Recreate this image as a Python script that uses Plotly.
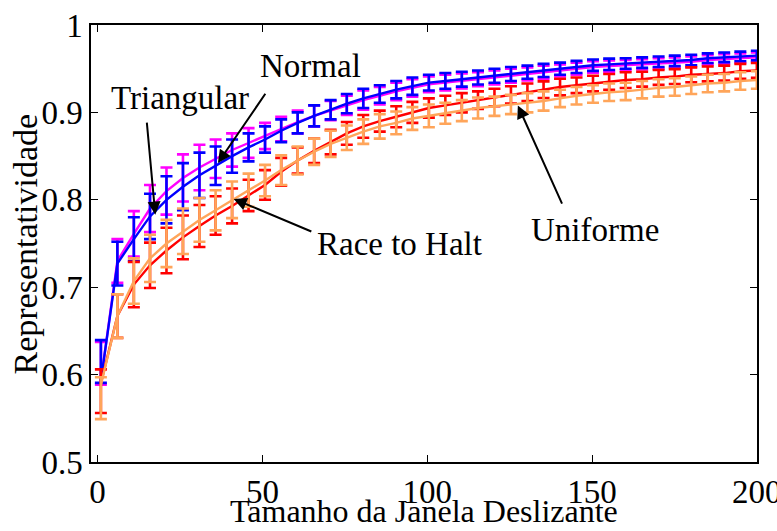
import plotly.graph_objects as go

# Window sizes (x)
window = [1.0, 6.0, 11.0, 15.9, 20.9, 25.9, 30.9, 35.8, 40.8, 45.8, 50.8, 55.7, 60.7, 65.7,
          70.7, 75.6, 80.6, 85.6, 90.6, 95.5, 100.5, 105.5, 110.5, 115.4, 120.4, 125.4,
          130.4, 135.3, 140.3, 145.3, 150.3, 155.2, 160.2, 165.2, 170.2, 175.1, 180.1,
          185.1, 190.1, 195.0, 200.0]

# Normal (blue)
normal_y = [0.593, 0.727, 0.755, 0.781, 0.800, 0.815, 0.828, 0.839, 0.850, 0.860, 0.869,
            0.879, 0.888, 0.896, 0.903, 0.910, 0.916, 0.921, 0.926, 0.930, 0.934, 0.936,
            0.938, 0.940, 0.942, 0.944, 0.946, 0.948, 0.950, 0.952, 0.954, 0.955, 0.956,
            0.957, 0.958, 0.959, 0.960, 0.962, 0.963, 0.964, 0.965]
normal_err = [0.0245, 0.025, 0.025, 0.026, 0.027, 0.027, 0.026, 0.022, 0.019, 0.016, 0.015,
              0.013, 0.012, 0.012, 0.011, 0.011, 0.011, 0.010, 0.010, 0.010, 0.009, 0.009,
              0.0085, 0.008, 0.008, 0.008, 0.0075, 0.0075, 0.007, 0.007, 0.0065, 0.0065,
              0.006, 0.006, 0.006, 0.006, 0.006, 0.0055, 0.0055, 0.0055, 0.0055]
normal_bar0 = 0.615

# Triangular (magenta)
triang_y = [0.593, 0.730, 0.761, 0.790, 0.810, 0.825, 0.837, 0.847, 0.857, 0.865, 0.873,
            0.881, 0.889, 0.896, 0.902, 0.908, 0.914, 0.919, 0.924, 0.928, 0.932, 0.934,
            0.936, 0.938, 0.940, 0.942, 0.944, 0.946, 0.948, 0.950, 0.952, 0.953, 0.954,
            0.955, 0.956, 0.957, 0.958, 0.960, 0.961, 0.962, 0.963]
triang_err = [0.0245, 0.025, 0.026, 0.027, 0.027, 0.027, 0.026, 0.022, 0.019, 0.017, 0.015,
              0.014, 0.013, 0.012, 0.011, 0.011, 0.011, 0.010, 0.010, 0.010, 0.009, 0.009,
              0.0085, 0.008, 0.008, 0.008, 0.0075, 0.0075, 0.007, 0.007, 0.0065, 0.0065,
              0.006, 0.006, 0.006, 0.006, 0.006, 0.0055, 0.0055, 0.0055, 0.0055]
triang_bar0 = 0.613

# Race to Halt (red)
race_y = [0.590, 0.667, 0.703, 0.725, 0.742, 0.757, 0.770, 0.782, 0.793, 0.805, 0.817,
          0.832, 0.845, 0.856, 0.866, 0.876, 0.884, 0.890, 0.895, 0.900, 0.905, 0.908,
          0.911, 0.914, 0.917, 0.920, 0.923, 0.926, 0.929, 0.931, 0.933, 0.935, 0.937,
          0.938, 0.940, 0.941, 0.943, 0.944, 0.945, 0.947, 0.948]
race_err = [0.025, 0.025, 0.026, 0.026, 0.026, 0.025, 0.024, 0.022, 0.020, 0.018, 0.017,
            0.016, 0.015, 0.014, 0.014, 0.013, 0.013, 0.012, 0.012, 0.012, 0.011, 0.011,
            0.011, 0.010, 0.010, 0.010, 0.010, 0.0095, 0.0095, 0.009, 0.009, 0.009, 0.009,
            0.0085, 0.0085, 0.0085, 0.0085, 0.0085, 0.0085, 0.0085, 0.0085]
race_bar0 = 0.581

# Uniforme (orange)
unif_y = [0.588, 0.667, 0.707, 0.733, 0.750, 0.764, 0.777, 0.788, 0.800, 0.811, 0.822,
          0.834, 0.845, 0.855, 0.864, 0.871, 0.878, 0.884, 0.888, 0.893, 0.896, 0.899,
          0.902, 0.905, 0.907, 0.909, 0.911, 0.913, 0.916, 0.919, 0.921, 0.923, 0.924,
          0.926, 0.928, 0.929, 0.931, 0.933, 0.934, 0.936, 0.937]
unif_err = [0.024, 0.025, 0.026, 0.027, 0.027, 0.026, 0.025, 0.023, 0.021, 0.019, 0.018,
            0.017, 0.016, 0.015, 0.015, 0.014, 0.014, 0.014, 0.013, 0.013, 0.013, 0.012,
            0.012, 0.012, 0.011, 0.011, 0.011, 0.011, 0.010, 0.010, 0.010, 0.010, 0.010,
            0.010, 0.010, 0.010, 0.010, 0.010, 0.010, 0.010, 0.010]
unif_bar0 = 0.573

x_ticks = [0, 50, 100, 150, 200]
y_ticks = [0.5, 0.6, 0.7, 0.8, 0.9, 1.0]
y_tick_text = ["0.5", "0.6", "0.7", "0.8", "0.9", "1"]

x_title = "Tamanho da Janela Deslizante"
y_title = "Representatividade"

FONT = "Liberation Serif"

series = [
    ("Triangular", triang_y, triang_err, triang_bar0, "#FF00FF"),
    ("Normal", normal_y, normal_err, normal_bar0, "#0000FF"),
    ("Race to Halt", race_y, race_err, race_bar0, "#FF0000"),
    ("Uniforme", unif_y, unif_err, unif_bar0, "#FFA55A"),
]

fig = go.Figure()
for name, ys, errs, bar0, color in series:
    centers = [bar0] + ys[1:]
    fig.add_trace(go.Scatter(
        x=window, y=centers, mode="markers",
        marker=dict(size=1, color="rgba(0,0,0,0)"),
        error_y=dict(type="data", array=errs, visible=True, color=color,
                     thickness=2.6, width=6),
        showlegend=False, hoverinfo="skip"))
    fig.add_trace(go.Scatter(
        x=window, y=ys, mode="lines", name=name,
        line=dict(color=color, width=2.4), showlegend=False))

annotations = [
    dict(x=64.6, y=0.953, text="Normal"),
    dict(x=24.9, y=0.916, text="Triangular"),
    dict(x=91.7, y=0.750, text="Race to Halt"),
    dict(x=150.8, y=0.766, text="Uniforme"),
]
for a in annotations:
    fig.add_annotation(x=a["x"], y=a["y"], text=a["text"], showarrow=False,
                       xref="x", yref="y", font=dict(family=FONT, size=33, color="black"))

arrows = [
    (36.5, 0.842, 51.2, 0.923),
    (17.5, 0.783, 14.9, 0.890),
    (41.3, 0.801, 65.3, 0.763),
    (127.5, 0.908, 141.1, 0.794),
]
for tx, ty, sx, sy in arrows:
    fig.add_annotation(x=tx, y=ty, ax=sx, ay=sy, xref="x", yref="y", axref="x", ayref="y",
                       text="", showarrow=True, arrowhead=2, arrowsize=1.3,
                       arrowwidth=2, arrowcolor="black", standoff=0, startstandoff=0)

# axis titles as paper-anchored text
fig.add_annotation(text=x_title, xref="paper", yref="paper", x=0.5, y=-0.158,
                   xanchor="center", yanchor="bottom", showarrow=False,
                   font=dict(family=FONT, size=32, color="black"))
fig.add_annotation(text=y_title, xref="paper", yref="paper", x=-0.0976, y=0.5,
                   xanchor="center", yanchor="middle", textangle=-90, showarrow=False,
                   font=dict(family=FONT, size=34, color="black"))

axis_common = dict(showline=True, linecolor="black", linewidth=1.5, mirror="ticks",
                   ticks="inside", ticklen=7, tickwidth=1.2, tickcolor="black",
                   showgrid=False, zeroline=False, ticklabeloverflow="allow",
                   automargin=False,
                   tickfont=dict(family=FONT, size=33, color="black"))

fig.update_xaxes(range=[-2, 200.05], tickvals=x_ticks, ticktext=[str(v) for v in x_ticks],
                 **axis_common)
fig.update_yaxes(range=[0.5, 1.0], tickvals=y_ticks, ticktext=y_tick_text,
                 **axis_common)

fig.update_layout(template="none", width=777, height=531,
                  margin=dict(l=91, r=20, t=25, b=69),
                  plot_bgcolor="white", paper_bgcolor="white", showlegend=False,
                  font=dict(family=FONT, color="black"))

fig.write_html("out.html")
